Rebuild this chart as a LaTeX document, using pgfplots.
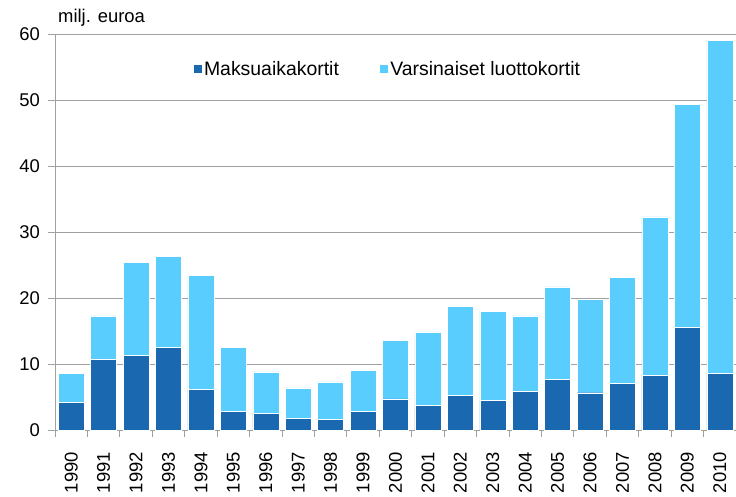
\documentclass[border=0pt]{standalone}
\usepackage{fontspec}
\setmainfont{Liberation Sans}
\usepackage{pgfplots}
\pgfplotsset{compat=1.18}
\usepackage{pgfplotstable}
\definecolor{darkblue}{RGB}{26,104,175}
\definecolor{lightblue}{RGB}{90,205,255}
\definecolor{gridgray}{RGB}{160,160,160}
\pgfplotstableread{
x year dark light
0 1990 4.2 4.4
1 1991 10.75 6.55
2 1992 11.3 14.05
3 1993 12.5 13.8
4 1994 6.2 17.2
5 1995 2.8 9.7
6 1996 2.5 6.3
7 1997 1.8 4.6
8 1998 1.6 5.7
9 1999 2.8 6.2
10 2000 4.7 8.9
11 2001 3.7 11.15
12 2002 5.2 13.5
13 2003 4.45 13.55
14 2004 5.9 11.4
15 2005 7.7 14.0
16 2006 5.65 14.15
17 2007 7.1 16.0
18 2008 8.3 24.0
19 2009 15.6 33.7
20 2010 8.6 50.4
}\datatable
\begin{document}
\begin{tikzpicture}
\begin{axis}[
  at={(0,0)}, anchor=south west,
  scale only axis,
  width=681bp, height=396bp,
  xmin=-0.5, xmax=20.5,
  ymin=0, ymax=60,
  ytick={0,10,...,60},
  xtick={0,...,20},
  xticklabels={1990,1991,1992,1993,1994,1995,1996,1997,1998,1999,2000,2001,2002,2003,2004,2005,2006,2007,2008,2009,2010},
  minor xtick={-0.5,0.5,...,20.5},
  axis x line=bottom, axis y line=left,
  axis line style={-, draw=gridgray, line width=1bp},
  tick align=outside,
  x tick style={draw=none},
  minor x tick style={draw=gridgray, line width=1bp},
  y tick style={draw=gridgray, line width=1bp},
  major tick length=7bp, minor tick length=7bp,
  ymajorgrids,
  major grid style={draw=gridgray, line width=1bp},
  tick label style={font=\fontsize{18.5}{21}\selectfont},
  /pgf/number format/assume math mode=true,
  xticklabel style={rotate=90, anchor=east, inner sep=0pt},
  xticklabel shift={15bp},
  yticklabel style={inner sep=0pt},
  yticklabel shift={8bp},
  ybar stacked,
  bar width=26bp,
  legend style={at={(0.488,0.912)}, anchor=center, draw=none, fill=none,
    legend columns=2, font=\fontsize{19.5}{22}\selectfont,
    /tikz/every even column/.append style={column sep=38bp}},
  legend image code/.code={\fill[#1] (-3bp,-4.5bp) rectangle (6bp,4.5bp);},
  clip=false,
]
\addplot[fill=darkblue, draw=white, line width=0.4bp] table[x=x, y=dark] {\datatable};
\addlegendentry{Maksuaikakortit}
\addplot[fill=lightblue, draw=white, line width=0.4bp] table[x=x, y=light] {\datatable};
\addlegendentry{Varsinaiset luottokortit}
\node[anchor=south west, inner sep=0pt, font=\fontsize{18.5}{21}\selectfont] at (rel axis cs:0,1) [xshift=3bp, yshift=7bp] {milj. euroa};
\end{axis}
\pgfresetboundingbox
\path (-55bp,-67bp) rectangle (681bp,430bp);
\end{tikzpicture}
\end{document}
